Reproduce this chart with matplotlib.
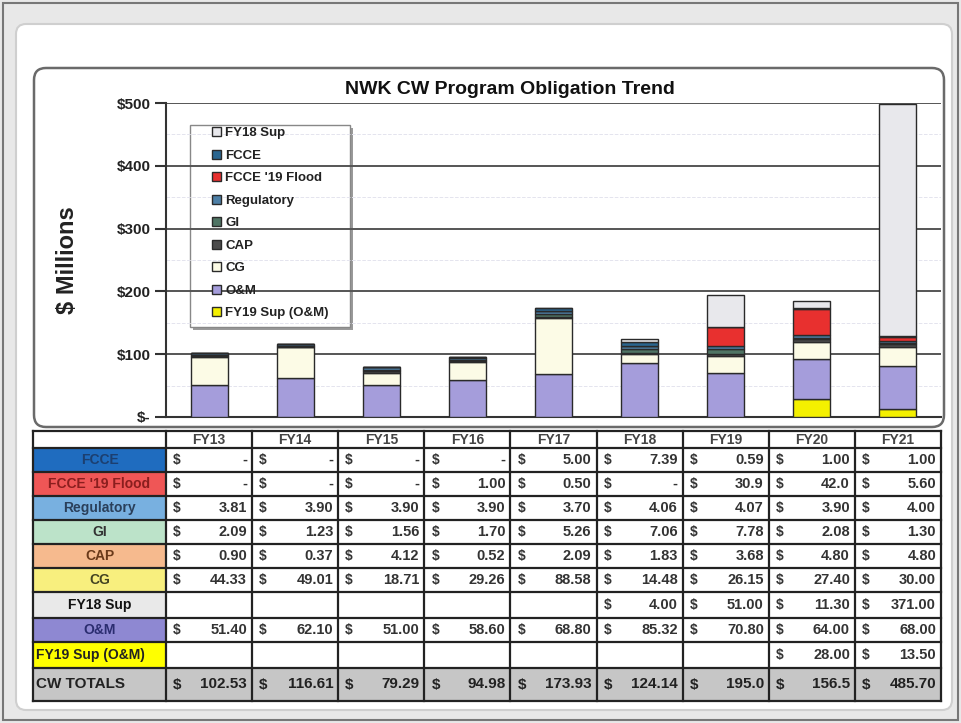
import numpy as np
import matplotlib
matplotlib.use('Agg')
import matplotlib.pyplot as plt
import matplotlib.ticker as tick
from matplotlib.patches import FancyBboxPatch, Rectangle

# podaci (iz tablice na slici)
years = ['FY13', 'FY14', 'FY15', 'FY16', 'FY17', 'FY18', 'FY19', 'FY20', 'FY21']
fcce = ['-', '-', '-', '-', '5.00', '7.39', '0.59', '1.00', '1.00']
flood = ['-', '-', '-', '1.00', '0.50', '-', '30.9', '42.0', '5.60']
regulatory = ['3.81', '3.90', '3.90', '3.90', '3.70', '4.06', '4.07', '3.90', '4.00']
gi = ['2.09', '1.23', '1.56', '1.70', '5.26', '7.06', '7.78', '2.08', '1.30']
cap = ['0.90', '0.37', '4.12', '0.52', '2.09', '1.83', '3.68', '4.80', '4.80']
cg = ['44.33', '49.01', '18.71', '29.26', '88.58', '14.48', '26.15', '27.40', '30.00']
fy18sup = ['', '', '', '', '', '4.00', '51.00', '11.30', '371.00']
om = ['51.40', '62.10', '51.00', '58.60', '68.80', '85.32', '70.80', '64.00', '68.00']
fy19sup = ['', '', '', '', '', '', '', '28.00', '13.50']
totals = ['102.53', '116.61', '79.29', '94.98', '173.93', '124.14', '195.0', '156.5', '485.70']

row_names = ['FCCE', "FCCE '19 Flood", 'Regulatory', 'GI', 'CAP', 'CG', 'FY18 Sup', 'O&M', 'FY19 Sup (O&M)']
rows = [fcce, flood, regulatory, gi, cap, cg, fy18sup, om, fy19sup]
row_fill = ['#1f6cbf', '#ef5656', '#78b0e0', '#bce3c9', '#f6ba8e', '#f8ef7e', '#e9e9e9', '#8e88d2', '#ffff00']
row_txt = ['#1c3f70', '#8a1e1e', '#2a3f5a', '#333333', '#6a3a1a', '#444422', '#111111', '#2b2d70', '#222222']

# redoslijed slaganja stupaca (odozdo prema gore)
stack = [('FY19 Sup (O&M)', fy19sup, '#f4f000'),
         ('O&M', om, '#a59ddb'),
         ('CG', cg, '#fcfbe6'),
         ('CAP', cap, '#4b4b4b'),
         ('GI', gi, '#4f7464'),
         ('Regulatory', regulatory, '#4d7fa6'),
         ("FCCE '19 Flood", flood, '#e8302f'),
         ('FCCE', fcce, '#2a6690'),
         ('FY18 Sup', fy18sup, '#e8e8ec')]


def num(lst):
    return np.array([float(s) if s not in ('-', '') else 0.0 for s in lst])


W, H = 961, 723
fig = plt.figure(figsize=(W/100, H/100), dpi=100, facecolor='#e8e8e8')
plt.rcParams['font.family'] = ['Liberation Sans', 'DejaVu Sans']
plt.rcParams['font.weight'] = 'bold'

# pozadina u pikselima
bg = fig.add_axes([0, 0, 1, 1], zorder=0)
bg.set_xlim(0, W)
bg.set_ylim(H, 0)
bg.axis('off')
bg.add_patch(Rectangle((3, 3), W-6, H-6, fc='#e8e8e8', ec='#777777', lw=1.5))
bg.add_patch(FancyBboxPatch((16, 24), 936, 686, boxstyle='round,pad=0,rounding_size=10',
                            fc='white', ec='#cfcfcf', lw=1.5))
bg.add_patch(FancyBboxPatch((34, 68), 910, 359, boxstyle='round,pad=0,rounding_size=12',
                            fc='white', ec='#6a6a6a', lw=1.8))

# tablica
x_edges = [33] + list(np.linspace(166, 941, 10))
y_edges = [431, 448, 472, 496, 520, 544, 568, 592, 618, 642, 668, 701]
tcol = '#333333'
bg.add_patch(Rectangle((x_edges[0], y_edges[-2]), x_edges[-1]-x_edges[0], y_edges[-1]-y_edges[-2],
                       fc='#c6c6c6', ec='none'))
for i, (name, vals) in enumerate(zip(row_names, rows)):
    y0, y1 = y_edges[i+1], y_edges[i+2]
    bg.add_patch(Rectangle((x_edges[0], y0), x_edges[1]-x_edges[0], y1-y0, fc=row_fill[i], ec='none'))
    if name == 'FY19 Sup (O&M)':
        bg.text(x_edges[0]+3, (y0+y1)/2, name, ha='left', va='center', fontsize=10, color=row_txt[i])
    else:
        bg.text((x_edges[0]+x_edges[1])/2, (y0+y1)/2, name, ha='center', va='center', fontsize=10,
                color=row_txt[i])
    for j, s in enumerate(vals):
        if s == '':
            continue
        bg.text(x_edges[j+1]+7, (y0+y1)/2, '$', ha='left', va='center', fontsize=10, color=tcol)
        bg.text(x_edges[j+2]-5, (y0+y1)/2, s, ha='right', va='center', fontsize=10.5, color=tcol)
ty = (y_edges[-2]+y_edges[-1])/2
bg.text(x_edges[0]+3, ty, 'CW TOTALS', ha='left', va='center', fontsize=11, color='#222222')
for j, s in enumerate(totals):
    bg.text(x_edges[j+1]+7, ty, '$', ha='left', va='center', fontsize=11, color='#222222')
    bg.text(x_edges[j+2]-5, ty, s, ha='right', va='center', fontsize=11, color='#222222')
for j, yr in enumerate(years):
    bg.text((x_edges[j+1]+x_edges[j+2])/2, (y_edges[0]+y_edges[1])/2 + 1, yr, ha='center', va='center',
            fontsize=10, color='#444444')
for x in x_edges:
    bg.plot([x, x], [y_edges[0], y_edges[-1]], color='#222222', lw=1.6)
for y in y_edges:
    bg.plot([x_edges[0], x_edges[-1]], [y, y], color='#222222', lw=1.6)

# grafikon
ax = fig.add_axes([166/W, 1-417/H, (941-166)/W, (417-103)/H], zorder=2)
ax.patch.set_alpha(0)
x = np.arange(len(years))
bottom = np.zeros(len(years))
bars = []
for name, vals, col in stack:
    v = num(vals)
    b = ax.bar(x, v, 0.43, bottom=bottom, color=col, edgecolor='#2a2a2a', lw=1.0, label=name, zorder=3)
    bars.append(b)
    bottom += v

ax.set_xlim(-0.5, 8.5)
ax.set_ylim(0, 500)
ax.yaxis.set_major_locator(tick.MultipleLocator(100))
ax.yaxis.set_minor_locator(tick.MultipleLocator(50))
ax.yaxis.set_major_formatter(tick.FuncFormatter(lambda v, p: '$-' if v == 0 else f'${v:.0f}'))
ax.tick_params(axis='y', which='major', length=8, width=1.5, color='#333333', pad=3,
               labelsize=11, labelcolor='#222222')
ax.tick_params(axis='y', which='minor', length=0)
ax.set_xticks([])
ax.grid(axis='y', which='major', color='#555555', lw=1.4, zorder=1)
ax.grid(axis='y', which='minor', color='#e4e4ee', lw=0.7, ls='--', zorder=1)
for s in ['top', 'right']:
    ax.spines[s].set_visible(False)
ax.spines['left'].set_color('#333333')
ax.spines['left'].set_linewidth(1.5)
ax.spines['bottom'].set_color('#333333')
ax.spines['bottom'].set_linewidth(1.5)
ax.set_ylabel('$ Millions', fontsize=17, fontweight='bold', color='#222222', labelpad=27)
fig.text(510/W, 1-89/H, 'NWK CW Program Obligation Trend', ha='center', va='center',
         fontsize=14, fontweight='bold', color='#111111')

# legenda s okvirom
lx0, ly0, lx1, ly1 = 190, 125, 350, 327
bg.add_patch(Rectangle((lx0+3, ly0+3), lx1-lx0, ly1-ly0, fc='#9a9a9a', ec='none', zorder=5))
bg.add_patch(Rectangle((lx0, ly0), lx1-lx0, ly1-ly0, fc='white', ec='#888888', lw=1, zorder=6))
leg = ax.legend(bars[::-1], [s[0] for s in stack[::-1]], loc='upper left',
                bbox_to_anchor=((212-166)/(941-166), (417-127)/314), frameon=False,
                fontsize=9.5, handlelength=0.7, handleheight=0.7, handletextpad=0.3,
                labelspacing=0.78, borderaxespad=0, borderpad=0)
for t in leg.get_texts():
    t.set_color('#222222')
leg.set_zorder(10)

fig.savefig('out.png', dpi=100, facecolor=fig.get_facecolor())
